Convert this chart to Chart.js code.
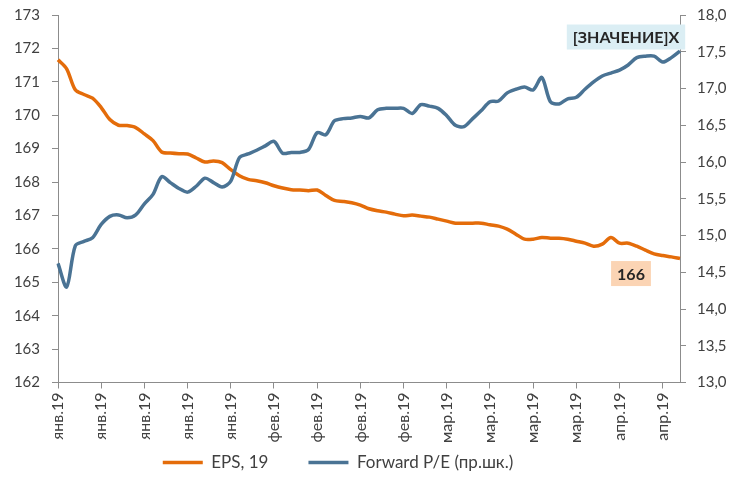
<!DOCTYPE html>
<html>
<head>
<meta charset="utf-8">
<script src="https://cdn.jsdelivr.net/npm/chart.js@4.4.1/dist/chart.umd.min.js"></script>
<style>
  html, body { margin: 0; padding: 0; background: #fff; }
  #wrap { width: 742px; height: 477px; }
</style>
</head>
<body>
<div id="wrap"><canvas id="grafico"></canvas></div>
<script>
// EPS 2019 (левая шкала)
const eps = [
  171.66, 171.39, 170.76, 170.62, 170.51, 170.23, 169.87, 169.70, 169.69, 169.63,
  169.44, 169.24, 168.90, 168.87, 168.85, 168.84, 168.72, 168.60, 168.63, 168.58,
  168.37, 168.19, 168.08, 168.04, 167.98, 167.89, 167.82, 167.77, 167.76, 167.74,
  167.76, 167.60, 167.45, 167.42, 167.38, 167.31, 167.20, 167.14, 167.10, 167.04,
  166.99, 167.01, 166.98, 166.95, 166.89, 166.83, 166.77, 166.77, 166.77, 166.77,
  166.72, 166.68, 166.59, 166.44, 166.29, 166.29, 166.34, 166.32, 166.32, 166.29,
  166.23, 166.17, 166.08, 166.14, 166.34, 166.17, 166.17, 166.08, 165.96, 165.85,
  165.80, 165.76, 165.71
];

// Forward P/E (правая шкала)
const pe = [
  14.62, 14.30, 14.86, 14.92, 14.97, 15.15, 15.26, 15.28, 15.24, 15.28,
  15.43, 15.56, 15.80, 15.72, 15.64, 15.59, 15.67, 15.78, 15.72, 15.66,
  15.74, 16.06, 16.11, 16.16, 16.22, 16.28, 16.12, 16.13, 16.13, 16.17,
  16.40, 16.37, 16.56, 16.59, 16.60, 16.62, 16.60, 16.71, 16.73, 16.73,
  16.73, 16.66, 16.78, 16.76, 16.73, 16.63, 16.50, 16.48, 16.59, 16.70,
  16.82, 16.83, 16.94, 16.99, 17.02, 16.98, 17.15, 16.82, 16.79, 16.86,
  16.88, 16.99, 17.09, 17.17, 17.21, 17.25, 17.32, 17.42, 17.44, 17.44,
  17.36, 17.42, 17.51
];

// подписи оси X, одна на каждые 5 точек
const rotulos = [
  'янв.19', 'янв.19', 'янв.19', 'янв.19', 'янв.19',
  'фев.19', 'фев.19', 'фев.19', 'фев.19',
  'мар.19', 'мар.19', 'мар.19', 'мар.19',
  'апр.19', 'апр.19'
];
const passo = 5;

const categorias = eps.map((_, i) => (i % passo === 0 ? rotulos[i / passo] : ''));

const corEps = '#E46C0A';
const corPe = '#4A7394';
const corTexto = '#404040';
const corEixo = '#8C8C8C';
const fonte = 'Lato, "Noto Sans", sans-serif';

// подписи данных в рамках (как в Excel)
const etiquetas = [
  { ds: 0, idx: eps.length - 1, texto: '166', dx: -49, dy: 15, fundo: '#FBD4B4' },
  { ds: 1, idx: pe.length - 1, texto: '[ЗНАЧЕНИЕ]Х', dx: -54, dy: -14, fundo: '#DBEEF4' }
];

const pluginEtiquetas = {
  id: 'etiquetas',
  afterDatasetsDraw(chart) {
    const ctx = chart.ctx;
    ctx.save();
    ctx.font = 'bold 16px ' + fonte;
    ctx.textAlign = 'center';
    ctx.textBaseline = 'middle';
    etiquetas.forEach(e => {
      const p = chart.getDatasetMeta(e.ds).data[e.idx];
      const cx = p.x + e.dx, cy = p.y + e.dy;
      const w = ctx.measureText(e.texto).width + 12;
      const h = 25;
      ctx.fillStyle = e.fundo;
      ctx.fillRect(cx - w / 2, cy - h / 2, w, h);
      ctx.fillStyle = '#262626';
      ctx.fillText(e.texto, cx, cy + 1);
    });
    ctx.restore();
  }
};

// сдвиг легенды и расширение области подписей оси X
const deslocLegenda = { x: -33, y: 4 };
const pluginLayout = {
  id: 'ajusteLayout',
  afterLayout(chart) {
    const l = chart.legend;
    l.left += deslocLegenda.x;
    l.right += deslocLegenda.x;
    l.top += deslocLegenda.y;
    l.bottom += deslocLegenda.y;
    const x = chart.scales.x;
    x.bottom = chart.height;
    x.height = x.bottom - x.top;
  }
};

const semPadding = (s, largura) => {
  s.width = largura;
  s.paddingTop = 0;
  s.paddingBottom = 0;
};

const ctx = document.getElementById('grafico').getContext('2d');
const grafico = new Chart(ctx, {
  type: 'line',
  data: {
    labels: categorias,
    datasets: [{
      label: 'EPS, 19',
      data: eps,
      borderColor: corEps,
      backgroundColor: corEps,
      borderWidth: 3.5,
      pointRadius: 0,
      tension: 0.3,
      yAxisID: 'y',
      order: 1
    }, {
      label: 'Forward P/E (пр.шк.)',
      data: pe,
      borderColor: corPe,
      backgroundColor: corPe,
      borderWidth: 3.5,
      pointRadius: 0,
      tension: 0.3,
      yAxisID: 'y2',
      order: 0
    }]
  },
  options: {
    responsive: true,
    maintainAspectRatio: false,
    animation: false,
    layout: { padding: { top: 15, left: 0, right: 0, bottom: 0 } },
    plugins: {
      legend: {
        position: 'bottom',
        labels: {
          color: corTexto,
          font: { family: fonte, size: 17 },
          usePointStyle: true,
          pointStyle: 'line',
          pointStyleWidth: 40,
          padding: 40,
          sort: (a, b) => a.datasetIndex - b.datasetIndex
        }
      },
      tooltip: { enabled: false }
    },
    scales: {
      x: {
        offset: false,
        grid: { drawOnChartArea: false, color: corEixo, tickLength: 6 },
        border: { color: corEixo, width: 1 },
        ticks: {
          autoSkip: false,
          maxRotation: 90,
          minRotation: 90,
          padding: 4,
          color: corTexto,
          font: { family: fonte, size: 16 },
          callback: function(v, i) {
            return categorias[i] ? categorias[i] : null;
          }
        },
        afterFit: s => { s.height = 27.5; }
      },
      y: {
        position: 'left',
        min: 162,
        max: 173,
        grid: { drawOnChartArea: false, color: corEixo, tickLength: 6 },
        border: { color: corEixo, width: 1 },
        ticks: {
          stepSize: 1,
          padding: 12,
          color: corTexto,
          font: { family: fonte, size: 15 }
        },
        afterFit: s => semPadding(s, 58)
      },
      y2: {
        position: 'right',
        min: 13,
        max: 18,
        grid: { drawOnChartArea: false, color: corEixo, tickLength: 6 },
        border: { color: corEixo, width: 1 },
        ticks: {
          stepSize: 0.5,
          padding: 11,
          color: corTexto,
          font: { family: fonte, size: 15 },
          callback: v => v.toFixed(1).replace('.', ',')
        },
        afterFit: s => semPadding(s, 62)
      }
    }
  },
  plugins: [pluginEtiquetas, pluginLayout]
});
</script>
</body>
</html>
